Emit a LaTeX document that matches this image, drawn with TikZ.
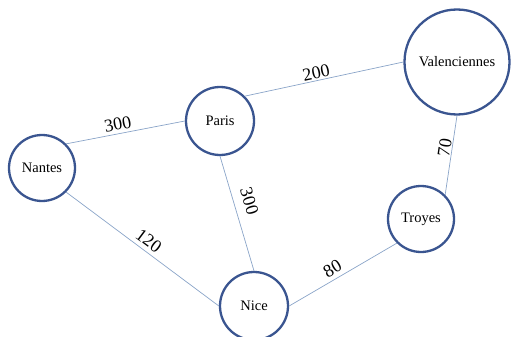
\documentclass[tikz,border=0pt]{standalone}
\usepackage{fontspec}
\setmainfont{Liberation Serif}
\definecolor{ringblue}{HTML}{3A5590}
\definecolor{roadblue}{HTML}{8AA4C8}

\begin{document}
\begin{tikzpicture}[x=1pt,y=-1pt,
  city/.style={draw=ringblue,circle,line width=2.3pt,font=\fontsize{14.5}{16}\selectfont,inner sep=0},
  road/.style={draw=roadblue,line width=0.7pt},
  dist/.style={sloped,above,font=\fontsize{18}{20}\selectfont,inner sep=1pt}]
        \useasboundingbox (0,0) rectangle (511,337);
        \node[city,minimum size=66pt] (nantes) at (42,168) {Nantes};
        \node[city,minimum size=68pt] (paris) at (220,121) {Paris};
        \node[city,minimum size=105pt] (valenciennes) at (457,62) {Valenciennes};
        \node[city,minimum size=66pt] (troyes) at (421,219) {Troyes};
        \node[city,minimum size=68pt] (nice) at (254,306) {Nice};
        \draw[road] (nantes.45) -- node[dist,above=2pt,pos=0.45] {300} (paris.west);
        \draw[road] (paris.45) -- node[dist,pos=0.46] {200} (valenciennes.west);
        \draw[road] (troyes.45) -- node[dist,pos=0.58] {70} (valenciennes.south);
        \draw[road] (paris.south) -- node[dist,above=8pt,pos=0.43] {300} (nice.north);
        \draw[road] (nantes.-45) -- node[dist,above=3pt,pos=0.5] {120} (nice.west);
        \draw[road] (nice.east) -- node[dist,above=3pt,pos=0.45] {80} (troyes.225);
      \end{tikzpicture}
\end{document}
